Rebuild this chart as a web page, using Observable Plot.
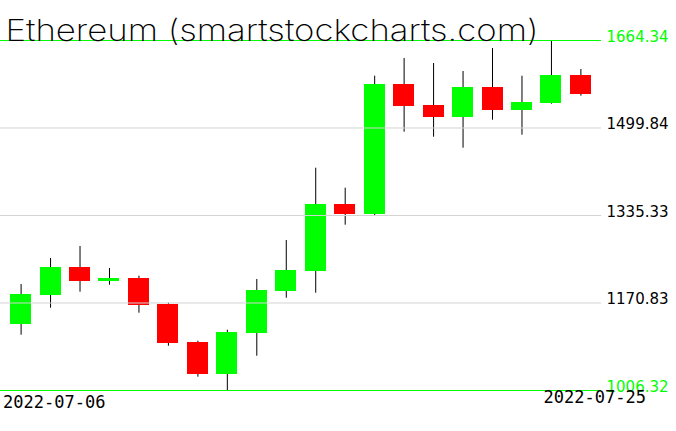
<!DOCTYPE html>
<html>
<head>
<meta charset="utf-8">
<script src="https://cdn.jsdelivr.net/npm/d3@7"></script>
<script src="https://cdn.jsdelivr.net/npm/@observablehq/plot@0.6"></script>
<style>
  html, body { margin: 0; padding: 0; background: #fff; }
  #chart svg rect { shape-rendering: crispEdges; }
</style>
</head>
<body>
<div id="chart"></div>
<script>
const title = "Ethereum (smartstockcharts.com)";
const dates = ["2022-07-06","2022-07-07","2022-07-08","2022-07-09","2022-07-10","2022-07-11","2022-07-12","2022-07-13","2022-07-14","2022-07-15","2022-07-16","2022-07-17","2022-07-18","2022-07-19","2022-07-20","2022-07-21","2022-07-22","2022-07-23","2022-07-24","2022-07-25"];
const open  = [1130.97,1185.49,1237.57,1211.81,1216.89,1168.57,1097.13,1036.96,1114.05,1193.01,1230.61,1356.57,1337.77,1582.18,1542.14,1520.14,1575.98,1533.30,1546.46,1599.10];
const high  = [1205.61,1254.49,1277.05,1235.69,1221.21,1170.45,1099.01,1119.69,1215.01,1288.33,1424.26,1386.65,1597.22,1630.50,1621.10,1606.06,1649.30,1597.22,1664.34,1609.82];
const low   = [1110.29,1161.05,1191.13,1204.29,1151.65,1089.60,1031.32,1006.32,1070.80,1179.85,1189.25,1317.09,1335.33,1491.94,1482.54,1461.86,1514.50,1486.30,1544.58,1559.62];
const close = [1186.80,1237.57,1211.81,1216.89,1166.69,1095.25,1036.96,1115.93,1194.32,1231.93,1356.57,1337.77,1582.18,1540.82,1520.14,1575.98,1533.30,1548.34,1599.10,1563.38];
const yTicks = [1006.32, 1170.83, 1335.33, 1499.84, 1664.34];
const xTickLabels = ["2022-07-06", "2022-07-25"];

const UP = "#00ff00", DOWN = "#ff0000", GRID = "#d3d3d3";
const data = dates.map((d, i) => ({date: d, open: open[i], high: high[i], low: low[i], close: close[i]}));
const yMin = yTicks[0], yMax = yTicks[yTicks.length - 1];
const innerTicks = yTicks.slice(1, -1);
const edgeTicks = [yMin, yMax];

const chart = Plot.plot({
  width: 676,
  height: 431,
  marginLeft: 0,
  marginRight: 75,
  marginTop: 40,
  marginBottom: 41,
  style: {background: "#fff", overflow: "visible", fontFamily: "DejaVu Sans"},
  x: {type: "band", domain: dates, paddingInner: 0.2872, paddingOuter: 0.3426, round: false, axis: null},
  y: {domain: [yMin, yMax], axis: null},
  marks: [
    Plot.ruleX(data, {x: "date", y1: "low", y2: "high", stroke: "#000", strokeWidth: 1}),
    Plot.barY(data, {x: "date", y1: "open", y2: "close", fill: d => d.close >= d.open ? UP : DOWN}),
    Plot.ruleY(innerTicks, {y: d => d, stroke: GRID, strokeWidth: 1}),
    Plot.ruleY(edgeTicks, {y: d => d, stroke: UP, strokeWidth: 1}),
    Plot.text(yTicks, {y: d => d, text: d => d.toFixed(2), frameAnchor: "right", dx: 5, dy: 1,
      textAnchor: "start", lineAnchor: "bottom", fontSize: 15, fontFamily: "DejaVu Sans",
      fill: d => (d === yMin || d === yMax) ? UP : "#000"}),
    Plot.text([title], {text: d => d, frameAnchor: "top-left", dx: 5, dy: 0, textAnchor: "start",
      lineAnchor: "bottom", fontSize: 30, fontFamily: "Inter, Lato, Roboto, 'DejaVu Sans'", fontWeight: 200, fill: "#000"}),
    Plot.text([xTickLabels[0]], {x: d => d, text: d => d, frameAnchor: "bottom", dx: -18, dy: 17,
      textAnchor: "start", lineAnchor: "bottom", fontSize: 17, fontFamily: "DejaVu Sans Mono", fill: "#000"}),
    Plot.text([xTickLabels[1]], {x: d => d, text: d => d, frameAnchor: "bottom", dx: 65, dy: 12,
      textAnchor: "end", lineAnchor: "bottom", fontSize: 17, fontFamily: "DejaVu Sans Mono", fill: "#000"})
  ]
});
document.getElementById("chart").appendChild(chart);
for (const t of chart.querySelectorAll("text")) {
  if (t.textContent === title) {
    t.setAttribute("textLength", 533);
    t.setAttribute("lengthAdjust", "spacingAndGlyphs");
  }
}
</script>
</body>
</html>
